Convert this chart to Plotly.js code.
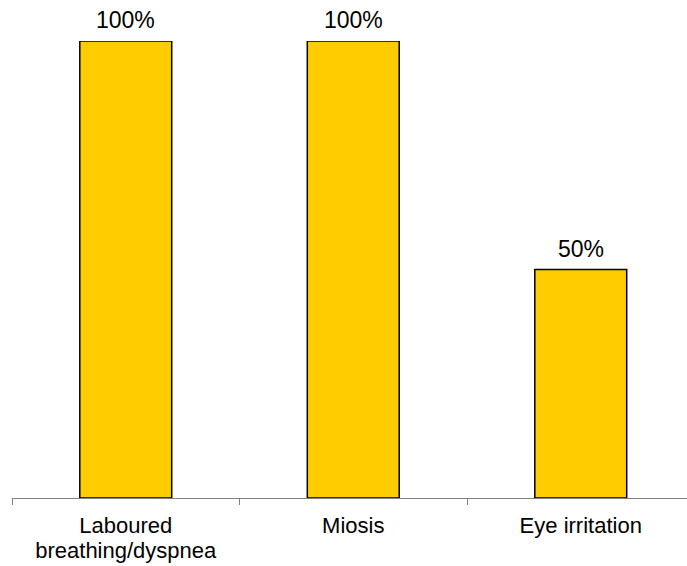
<!DOCTYPE html>
<html>
<head>
<meta charset="utf-8">
<script src="https://cdn.plot.ly/plotly-3.0.1.min.js"></script>
<style>html,body{margin:0;padding:0;background:#fff;}#chart{width:687px;height:566px;}</style>
</head>
<body>
<div id="chart"></div>
<script>
const categories = ["Laboured<br>breathing/dyspnea", "Miosis", "Eye irritation"];
const values = [100, 100, 50];
const labels = ["100%", "100%", "50%"];

const FONT = "Liberation Sans, Arial, sans-serif";

const trace = {
  type: "bar",
  x: categories,
  y: values,
  marker: {color: "#FFCC00", line: {color: "#000", width: 1.5}},
  width: 0.404,
  hoverinfo: "none"
};

const annotations = categories.map((c, i) => ({
  x: c, y: values[i], xref: "x", yref: "y",
  text: labels[i], showarrow: false,
  yanchor: "bottom", yshift: 6,
  font: {family: FONT, size: 23, color: "#000"}
}));

const layout = {
  width: 687, height: 566,
  margin: {l: 12, r: 0, t: 41, b: 68},
  paper_bgcolor: "#fff", plot_bgcolor: "#fff",
  showlegend: false,
  font: {family: FONT, size: 22, color: "#000"},
  annotations: annotations,
  xaxis: {
    type: "category",
    range: [-0.5, 2.467],
    tickson: "boundaries",
    ticks: "outside", ticklen: 6, tickcolor: "#808080", tickwidth: 1,
    ticklabelstandoff: 8,
    showline: true, linecolor: "#808080", linewidth: 1,
    showgrid: false, zeroline: false,
    tickfont: {family: FONT, size: 22, color: "#000"}
  },
  yaxis: {
    range: [0, 100],
    visible: false,
    showgrid: false, zeroline: false
  }
};

Plotly.newPlot("chart", [trace], layout, {displayModeBar: false, staticPlot: true}).then(() => {
  document.querySelectorAll("#chart .xtick text tspan.line").forEach((t) => {
    const dy = t.getAttribute("dy");
    if (dy && parseFloat(dy) > 0) t.setAttribute("dy", "1.12em");
  });
});
</script>
</body>
</html>
